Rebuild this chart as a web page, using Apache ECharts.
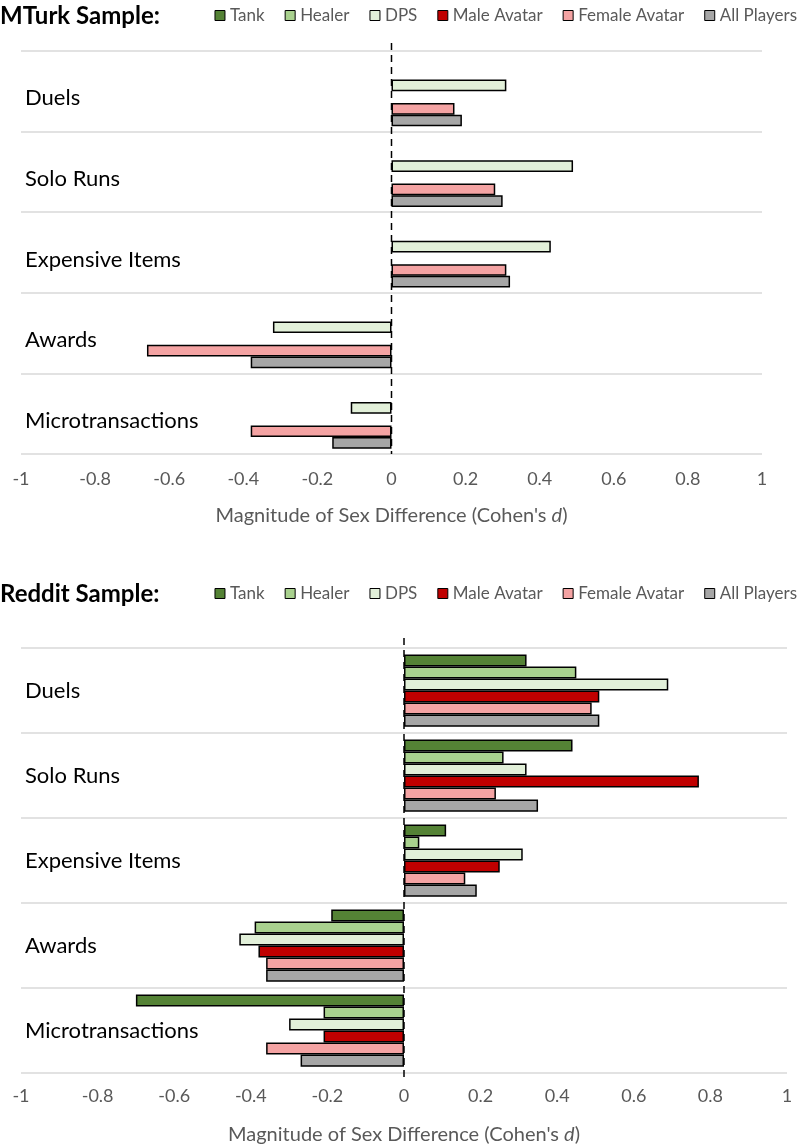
<!DOCTYPE html>
<html>
<head>
<meta charset="utf-8">
<script src="https://cdn.jsdelivr.net/npm/echarts@6/dist/echarts.min.js"></script>
<style>
  html, body { margin: 0; padding: 0; background: #fff; }
  #chart { width: 800px; height: 1146px; }
</style>
</head>
<body>
<div id="chart"></div>
<script>
// ---------- DATA ----------
const categories = ['Duels', 'Solo Runs', 'Expensive Items', 'Awards', 'Microtransactions'];
const seriesNames = ['Tank', 'Healer', 'DPS', 'Male Avatar', 'Female Avatar', 'All Players'];
const xTickMin = -1, xTickMax = 1, xTickStep = 0.2;

// MTurk sample (only DPS, Female Avatar, All Players reported)
const mturkTank   = [null, null, null, null, null];
const mturkHealer = [null, null, null, null, null];
const mturkDPS    = [0.31, 0.49, 0.43, -0.32, -0.11];
const mturkMale   = [null, null, null, null, null];
const mturkFemale = [0.17, 0.28, 0.31, -0.66, -0.38];
const mturkAll    = [0.19, 0.30, 0.32, -0.38, -0.16];

// Reddit sample
const redditTank   = [0.32, 0.44, 0.11, -0.19, -0.70];
const redditHealer = [0.45, 0.26, 0.04, -0.39, -0.21];
const redditDPS    = [0.69, 0.32, 0.31, -0.43, -0.30];
const redditMale   = [0.51, 0.77, 0.25, -0.38, -0.21];
const redditFemale = [0.49, 0.24, 0.16, -0.36, -0.36];
const redditAll    = [0.51, 0.35, 0.19, -0.36, -0.27];

// ---------- STYLE ----------
const colors = ['#548235', '#A9D18E', '#E2F0D9', '#C00000', '#F4A3A3', '#A6A6A6'];
const FONT = 'Lato, "Open Sans", sans-serif';
const gridTop = { left: 21, right: 38, top: 51, height: 403 };
const gridBot = { left: 21, right: 13, top: 648, height: 429 };

const mturkData = [mturkTank, mturkHealer, mturkDPS, mturkMale, mturkFemale, mturkAll];
const redditData = [redditTank, redditHealer, redditDPS, redditMale, redditFemale, redditAll];

function makeSeries(dataList, idx, gap) {
  return dataList.map((d, i) => ({
    name: seriesNames[i],
    type: 'bar',
    xAxisIndex: idx,
    yAxisIndex: idx,
    data: d,
    barGap: '0%',
    barCategoryGap: gap,
    itemStyle: { color: colors[i], borderColor: '#000', borderWidth: 1.5 },
    emphasis: { disabled: true },
    animation: false
  }));
}

function xAxisDef(idx, margin) {
  return {
    type: 'value', gridIndex: idx,
    min: xTickMin, max: xTickMax, interval: xTickStep,
    axisLine: { show: false }, axisTick: { show: false }, splitLine: { show: false },
    axisLabel: {
      color: '#595959', fontSize: 18, fontFamily: FONT, margin: margin,
      formatter: v => String(Math.round(v * 10) / 10)
    },
    name: "Magnitude of Sex Difference (Cohen's {i|d})",
    nameLocation: 'middle', nameGap: 52,
    nameTextStyle: {
      color: '#595959', fontSize: 20, fontFamily: FONT,
      rich: { i: { fontStyle: 'italic', color: '#595959', fontSize: 20, fontFamily: FONT } }
    }
  };
}

function yAxisDef(idx, shift) {
  return {
    type: 'category', gridIndex: idx, data: categories, inverse: true,
    axisLine: { show: false }, axisTick: { show: false },
    splitLine: { show: true, interval: 0, lineStyle: { color: '#D9D9D9', width: 1.5 } },
    axisLabel: {
      inside: true, align: 'left', margin: 4, interval: 0,
      formatter: v => '{c|' + v + '}',
      rich: { c: { color: '#000', fontSize: 22, fontFamily: FONT, padding: [shift, 0, 0, 0] } }
    }
  };
}

function legendDef(top) {
  return {
    top: top, right: 3, itemWidth: 10, itemHeight: 10, itemGap: 20, padding: 0,
    icon: 'rect', data: seriesNames, selectedMode: false,
    textStyle: { color: '#595959', fontSize: 17, fontFamily: FONT },
    itemStyle: { borderColor: '#000', borderWidth: 1 }
  };
}

const chart = echarts.init(document.getElementById('chart'));
chart.setOption({
  animation: false,
  backgroundColor: '#fff',
  title: [
    { text: 'MTurk Sample:', left: 0, top: 4, padding: 0,
      textStyle: { color: '#000', fontSize: 24, fontWeight: 'bold', fontFamily: FONT } },
    { text: 'Reddit Sample:', left: 0, top: 582, padding: 0,
      textStyle: { color: '#000', fontSize: 24, fontWeight: 'bold', fontFamily: FONT } }
  ],
  legend: [legendDef(7), legendDef(585)],
  grid: [gridTop, gridBot],
  xAxis: [xAxisDef(0, 16), xAxisDef(1, 14)],
  yAxis: [yAxisDef(0, 14), yAxisDef(1, 0)],
  series: [...makeSeries(mturkData, 0, '13%'), ...makeSeries(redditData, 1, '15%')]
});

// dashed zero reference lines, positioned through the value axes' scales
const x0a = chart.convertToPixel({ xAxisIndex: 0 }, 0);
const x0b = chart.convertToPixel({ xAxisIndex: 1 }, 0);
const dashStyle = { stroke: '#000', lineWidth: 1.5, lineDash: [7, 5] };
chart.setOption({
  graphic: [
    { type: 'line', z: 100, shape: { x1: x0a, y1: gridTop.top - 8, x2: x0a, y2: gridTop.top + gridTop.height }, style: dashStyle, silent: true },
    { type: 'line', z: 100, shape: { x1: x0b, y1: gridBot.top - 10, x2: x0b, y2: gridBot.top + gridBot.height }, style: dashStyle, silent: true }
  ]
});
</script>
</body>
</html>
